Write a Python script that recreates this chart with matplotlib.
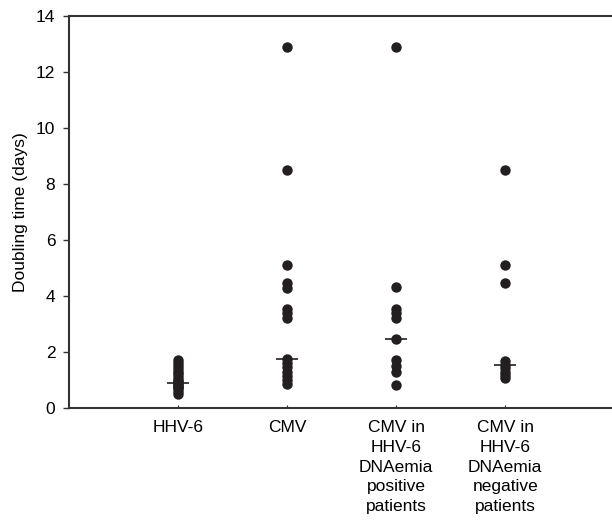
import numpy as np
import matplotlib.pyplot as plt

plt.rcParams['font.family'] = ['Liberation Sans', 'DejaVu Sans']

groups = ["HHV-6", "CMV", "CMV in\nHHV-6\nDNAemia\npositive\npatients",
          "CMV in\nHHV-6\nDNAemia\nnegative\npatients"]
hhv6 = [1.72, 1.6, 1.5, 1.4, 1.3, 1.2, 1.1, 1.0, 0.95, 0.9, 0.85, 0.8, 0.75, 0.7, 0.6, 0.5]
cmv = [12.9, 8.5, 5.1, 4.45, 4.3, 3.55, 3.4, 3.2, 1.75, 1.6, 1.45, 1.3, 1.15, 1.0, 0.85]
cmv_pos = [12.9, 4.32, 3.55, 3.38, 3.2, 2.46, 1.7, 1.5, 1.3, 0.82]
cmv_neg = [8.5, 5.1, 4.46, 1.68, 1.55, 1.42, 1.3, 1.18, 1.07]
medians = [0.89, 1.75, 2.46, 1.55]
data = [hhv6, cmv, cmv_pos, cmv_neg]

fig = plt.figure(figsize=(6.12, 5.23), dpi=100)
ax = fig.add_axes([0.113, 0.22, 0.887, 0.749])

for i, vals in enumerate(data):
    x = np.full(len(vals), i + 1)
    ax.plot(x, vals, 'o', color='#231f20', markersize=7.5, markeredgewidth=0)
    ax.hlines(medians[i], i + 1 - 0.1, i + 1 + 0.1, color='#231f20', linewidth=1.2)

ax.set_xlim(0, 4.98)
ax.set_ylim(0, 14)
ax.set_yticks(np.arange(0, 15, 2))
ax.set_xticks([1, 2, 3, 4])
ax.set_xticklabels(groups, fontsize=12.5, linespacing=1.38, va='top')
ax.tick_params(axis='x', length=2, pad=9, direction='in', color='#333333')
ax.tick_params(axis='y', length=4, labelsize=12.5, pad=6, color='#333333', width=1)
ax.set_ylabel("Doubling time (days)", fontsize=12.5, labelpad=6)
ax.spines['right'].set_visible(False)
for s in ax.spines.values():
    s.set_color('#333333')
    s.set_linewidth(1.5)

fig.savefig("out.png", dpi=100)
